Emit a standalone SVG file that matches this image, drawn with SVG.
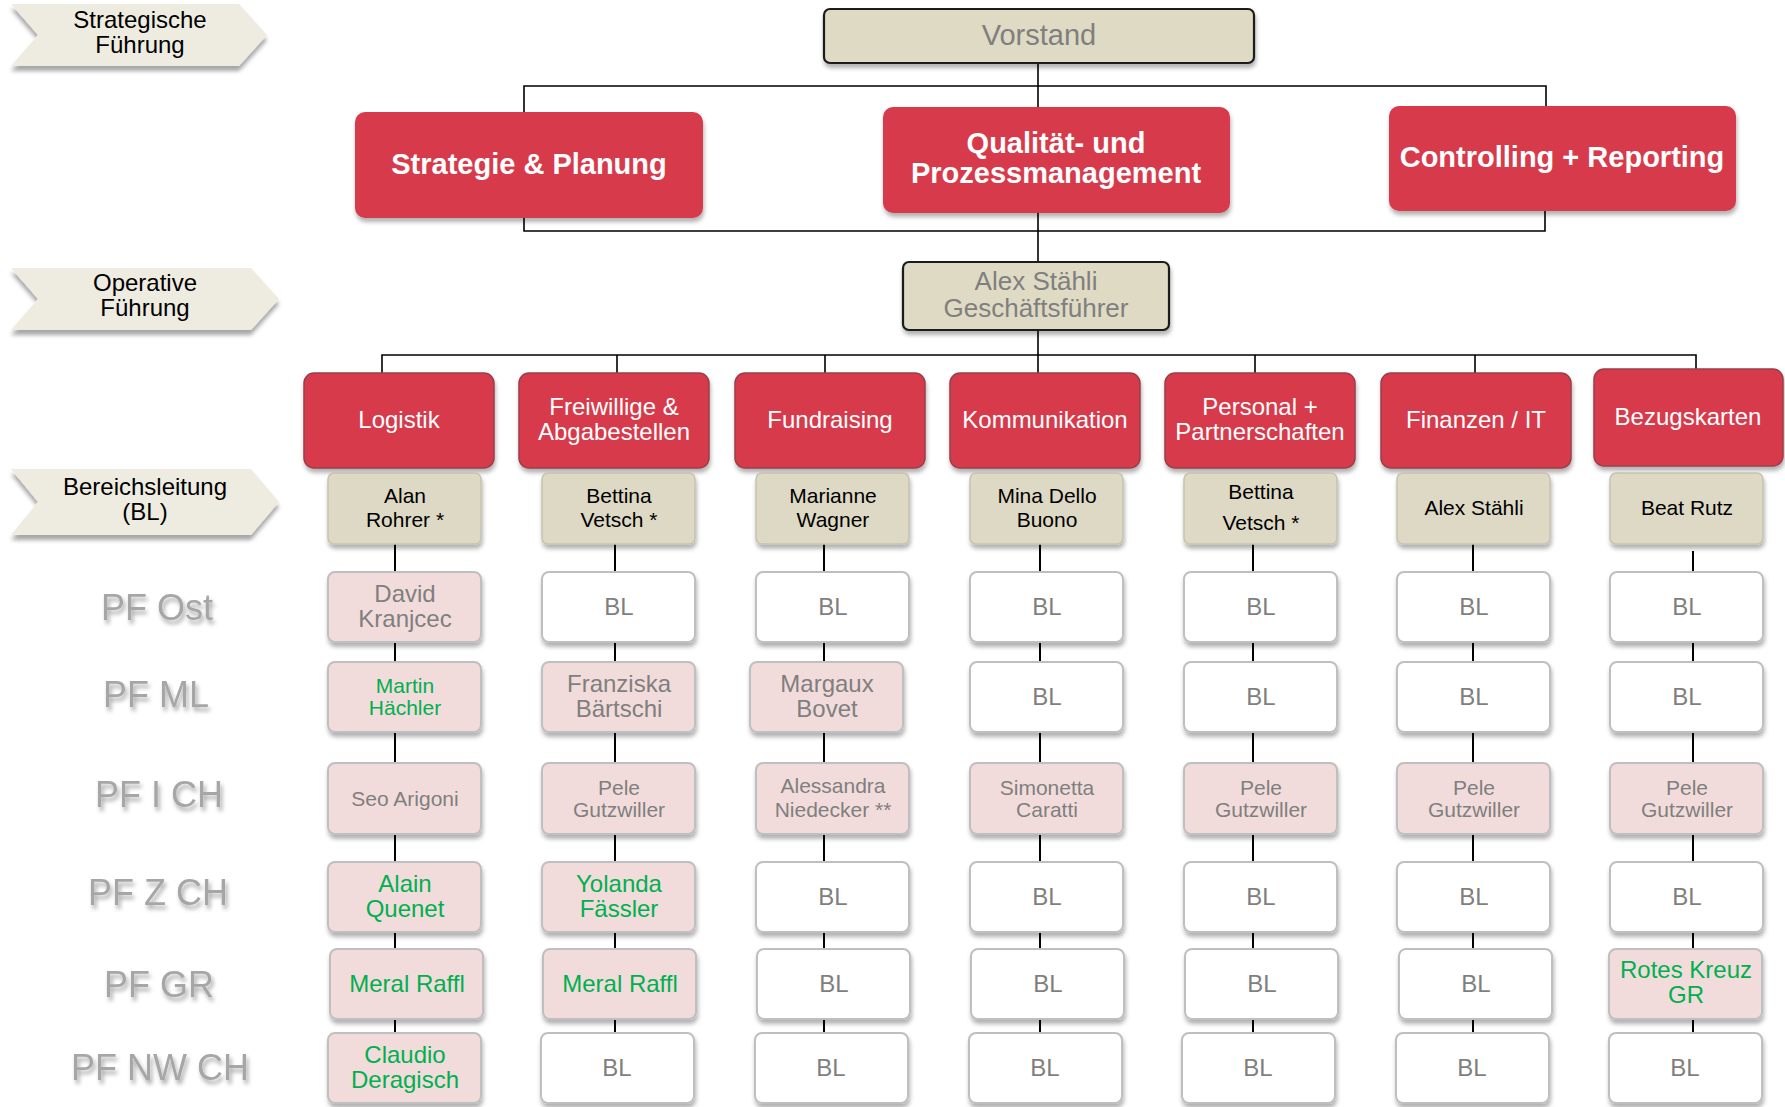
<svg xmlns="http://www.w3.org/2000/svg" width="1785" height="1107" viewBox="0 0 1785 1107">
<defs>
<filter id="sh" x="-10%" y="-10%" width="120%" height="135%"><feDropShadow dx="1" dy="4" stdDeviation="2" flood-color="#000" flood-opacity="0.3"/></filter>
<filter id="shc" x="-5%" y="-10%" width="110%" height="140%"><feDropShadow dx="0" dy="5" stdDeviation="2" flood-color="#000" flood-opacity="0.35"/></filter>
<filter id="sht" x="-10%" y="-20%" width="130%" height="160%"><feDropShadow dx="2" dy="4" stdDeviation="2" flood-color="#000" flood-opacity="0.35"/></filter>
<style>
text{font-family:"Liberation Sans",Arial,Helvetica,sans-serif;text-anchor:middle}
.chev{fill:#EEECE1;filter:url(#shc)}
.ct{font-size:24px;fill:#000}
.red{fill:#D73A4C;filter:url(#sh)}
.dept{fill:#D73A4C;stroke:#9A3E48;stroke-width:1.5;filter:url(#sh)}
.bt{font-size:29px;font-weight:bold;fill:#fff}
.dt{font-size:24px;fill:#fff}
.top{fill:#DFDAC3;stroke:#1A1A1A;stroke-width:2.2;filter:url(#sh)}
.tt{fill:#7F7F7F}
.beige{fill:#DDD9C4;stroke:#C6C2B0;stroke-width:1.5;filter:url(#sh)}
.nt{font-size:21px;fill:#000}
.pink{fill:#F2DCDB;stroke:#BFBFBF;stroke-width:2;filter:url(#sh)}
.white{fill:#FFFFFF;stroke:#BFBFBF;stroke-width:2;filter:url(#sh)}
.g{fill:#7F7F7F}
.gn{fill:#00B050}
.s24{font-size:24px}
.s21{font-size:21px}
.row{font-size:36px;fill:#A6A6A6;filter:url(#sht)}
.conn path{fill:none;stroke:#000;stroke-width:1.6}
.conn .c{stroke-width:2}
</style>
</defs>
<rect width="1785" height="1107" fill="#fff"/>

<g id="lane-labels">
<g id="lane-strategisch"><polygon class="chev" points="11,4 239,4 267,35 239,66 11,66 38,35"/><text class="ct" x="140" y="28">Strategische</text><text class="ct" x="140" y="53">Führung</text></g>
<g id="lane-operativ"><polygon class="chev" points="11,268 251,268 279,299 251,330 11,330 38,299"/><text class="ct" x="145" y="291">Operative</text><text class="ct" x="145" y="316">Führung</text></g>
<g id="lane-bl"><polygon class="chev" points="11,469 251,469 279,502 251,535 11,535 38,502"/><text class="ct" x="145" y="495">Bereichsleitung</text><text class="ct" x="145" y="520">(BL)</text></g>
<g id="row-labels">
<text class="row" x="157" y="620">PF Ost</text>
<text class="row" x="156" y="707">PF ML</text>
<text class="row" x="159" y="807">PF I CH</text>
<text class="row" x="158" y="905">PF Z CH</text>
<text class="row" x="159" y="997">PF GR</text>
<text class="row" x="160" y="1080">PF NW CH</text>
</g>
</g>

<g id="connectors" class="conn">
<path d="M1038,63 V262"/>
<path d="M1038,330 V355"/>
<path d="M524,112 V86 H1546 V106"/>
<path d="M524,218 V231 H1545 V211"/>
<path d="M382,373 V355 H1696 V369"/>
<path d="M617,355 V373 M825,355 V373 M1038,355 V373 M1255,355 V373 M1475,355 V373"/>
<path class="c" d="M395,544 V1033"/>
<path class="c" d="M615,544 V1033"/>
<path class="c" d="M824,544 V1033"/>
<path class="c" d="M1040,544 V1033"/>
<path class="c" d="M1253,544 V1033"/>
<path class="c" d="M1473,544 V1033"/>
<path class="c" d="M1693,551 V1033"/>
</g>

<g id="vorstand"><rect class="top" x="824" y="9" width="430" height="54" rx="6"/><text class="tt" x="1039" y="45" font-size="29">Vorstand</text></g>
<g id="strategie"><rect class="red" x="355" y="112" width="348" height="106" rx="10"/><text class="bt" x="529" y="174">Strategie &amp; Planung</text></g>
<g id="qualitaet"><rect class="red" x="883" y="107" width="347" height="106" rx="10"/><text class="bt" x="1056" y="153">Qualität- und</text><text class="bt" x="1056" y="183">Prozessmanagement</text></g>
<g id="controlling"><rect class="red" x="1389" y="106" width="347" height="105" rx="10"/><text class="bt" x="1562" y="167">Controlling + Reporting</text></g>
<g id="geschaeftsfuehrer"><rect class="top" x="903" y="262" width="266" height="68" rx="6"/><text class="tt" x="1036" y="290" font-size="26">Alex Stähli</text><text class="tt" x="1036" y="317" font-size="26">Geschäftsführer</text></g>

<g id="departments">
<g id="d-logistik"><rect class="dept" x="304" y="373" width="190" height="95" rx="10"/><text class="dt" x="399" y="428">Logistik</text></g>
<g id="d-freiwillige"><rect class="dept" x="519" y="373" width="190" height="95" rx="10"/><text class="dt" x="614" y="415">Freiwillige &amp;</text><text class="dt" x="614" y="440">Abgabestellen</text></g>
<g id="d-fundraising"><rect class="dept" x="735" y="373" width="190" height="95" rx="10"/><text class="dt" x="830" y="428">Fundraising</text></g>
<g id="d-kommunikation"><rect class="dept" x="950" y="373" width="190" height="95" rx="10"/><text class="dt" x="1045" y="428">Kommunikation</text></g>
<g id="d-personal"><rect class="dept" x="1165" y="373" width="190" height="95" rx="10"/><text class="dt" x="1260" y="415">Personal +</text><text class="dt" x="1260" y="440">Partnerschaften</text></g>
<g id="d-finanzen"><rect class="dept" x="1381" y="373" width="190" height="95" rx="10"/><text class="dt" x="1476" y="428">Finanzen / IT</text></g>
<g id="d-bezugskarten"><rect class="dept" x="1594" y="369" width="189" height="97" rx="10"/><text class="dt" x="1688" y="425">Bezugskarten</text></g>
</g>

<g id="bereichsleitung">
<g id="bl-logistik"><rect class="beige" x="328" y="473" width="153" height="71" rx="6"/><text class="nt" x="405" y="503">Alan</text><text class="nt" x="405" y="527">Rohrer *</text></g>
<g id="bl-freiwillige"><rect class="beige" x="542" y="473" width="153" height="71" rx="6"/><text class="nt" x="619" y="503">Bettina</text><text class="nt" x="619" y="527">Vetsch *</text></g>
<g id="bl-fundraising"><rect class="beige" x="756" y="473" width="153" height="71" rx="6"/><text class="nt" x="833" y="503">Marianne</text><text class="nt" x="833" y="527">Wagner</text></g>
<g id="bl-kommunikation"><rect class="beige" x="970" y="473" width="153" height="71" rx="6"/><text class="nt" x="1047" y="503">Mina Dello</text><text class="nt" x="1047" y="527">Buono</text></g>
<g id="bl-personal"><rect class="beige" x="1184" y="473" width="153" height="71" rx="6"/><text class="nt" x="1261" y="499">Bettina</text><text class="nt" x="1261" y="530">Vetsch *</text></g>
<g id="bl-finanzen"><rect class="beige" x="1397" y="473" width="153" height="71" rx="6"/><text class="nt" x="1474" y="515">Alex Stähli</text></g>
<g id="bl-bezugskarten"><rect class="beige" x="1610" y="473" width="153" height="71" rx="6"/><text class="nt" x="1687" y="515">Beat Rutz</text></g>
</g>

<g id="pf-ost">
<g id="ost-1"><rect class="pink" x="328" y="572" width="153" height="70" rx="7"/><text class="g s24" x="405" y="602">David</text><text class="g s24" x="405" y="627">Kranjcec</text></g>
<g id="ost-2"><rect class="white" x="542" y="572" width="153" height="70" rx="7"/><text class="g s24" x="619" y="615">BL</text></g>
<g id="ost-3"><rect class="white" x="756" y="572" width="153" height="70" rx="7"/><text class="g s24" x="833" y="615">BL</text></g>
<g id="ost-4"><rect class="white" x="970" y="572" width="153" height="70" rx="7"/><text class="g s24" x="1047" y="615">BL</text></g>
<g id="ost-5"><rect class="white" x="1184" y="572" width="153" height="70" rx="7"/><text class="g s24" x="1261" y="615">BL</text></g>
<g id="ost-6"><rect class="white" x="1397" y="572" width="153" height="70" rx="7"/><text class="g s24" x="1474" y="615">BL</text></g>
<g id="ost-7"><rect class="white" x="1610" y="572" width="153" height="70" rx="7"/><text class="g s24" x="1687" y="615">BL</text></g>
</g>

<g id="pf-ml">
<g id="ml-1"><rect class="pink" x="328" y="662" width="153" height="70" rx="7"/><text class="gn s21" x="405" y="693">Martin</text><text class="gn s21" x="405" y="715">Hächler</text></g>
<g id="ml-2"><rect class="pink" x="542" y="662" width="153" height="70" rx="7"/><text class="g s24" x="619" y="692">Franziska</text><text class="g s24" x="619" y="717">Bärtschi</text></g>
<g id="ml-3"><rect class="pink" x="750" y="662" width="153" height="70" rx="7"/><text class="g s24" x="827" y="692">Margaux</text><text class="g s24" x="827" y="717">Bovet</text></g>
<g id="ml-4"><rect class="white" x="970" y="662" width="153" height="70" rx="7"/><text class="g s24" x="1047" y="705">BL</text></g>
<g id="ml-5"><rect class="white" x="1184" y="662" width="153" height="70" rx="7"/><text class="g s24" x="1261" y="705">BL</text></g>
<g id="ml-6"><rect class="white" x="1397" y="662" width="153" height="70" rx="7"/><text class="g s24" x="1474" y="705">BL</text></g>
<g id="ml-7"><rect class="white" x="1610" y="662" width="153" height="70" rx="7"/><text class="g s24" x="1687" y="705">BL</text></g>
</g>

<g id="pf-ich">
<g id="ich-1"><rect class="pink" x="328" y="763" width="153" height="71" rx="7"/><text class="g s21" x="405" y="806">Seo Arigoni</text></g>
<g id="ich-2"><rect class="pink" x="542" y="763" width="153" height="71" rx="7"/><text class="g s21" x="619" y="795">Pele</text><text class="g s21" x="619" y="817">Gutzwiller</text></g>
<g id="ich-3"><rect class="pink" x="756" y="763" width="153" height="71" rx="7"/><text class="g s21" x="833" y="793">Alessandra</text><text class="g s21" x="833" y="817">Niedecker **</text></g>
<g id="ich-4"><rect class="pink" x="970" y="763" width="153" height="71" rx="7"/><text class="g s21" x="1047" y="795">Simonetta</text><text class="g s21" x="1047" y="817">Caratti</text></g>
<g id="ich-5"><rect class="pink" x="1184" y="763" width="153" height="71" rx="7"/><text class="g s21" x="1261" y="795">Pele</text><text class="g s21" x="1261" y="817">Gutzwiller</text></g>
<g id="ich-6"><rect class="pink" x="1397" y="763" width="153" height="71" rx="7"/><text class="g s21" x="1474" y="795">Pele</text><text class="g s21" x="1474" y="817">Gutzwiller</text></g>
<g id="ich-7"><rect class="pink" x="1610" y="763" width="153" height="71" rx="7"/><text class="g s21" x="1687" y="795">Pele</text><text class="g s21" x="1687" y="817">Gutzwiller</text></g>
</g>

<g id="pf-zch">
<g id="zch-1"><rect class="pink" x="328" y="862" width="153" height="70" rx="7"/><text class="gn s24" x="405" y="892">Alain</text><text class="gn s24" x="405" y="917">Quenet</text></g>
<g id="zch-2"><rect class="pink" x="542" y="862" width="153" height="70" rx="7"/><text class="gn s24" x="619" y="892">Yolanda</text><text class="gn s24" x="619" y="917">Fässler</text></g>
<g id="zch-3"><rect class="white" x="756" y="862" width="153" height="70" rx="7"/><text class="g s24" x="833" y="905">BL</text></g>
<g id="zch-4"><rect class="white" x="970" y="862" width="153" height="70" rx="7"/><text class="g s24" x="1047" y="905">BL</text></g>
<g id="zch-5"><rect class="white" x="1184" y="862" width="153" height="70" rx="7"/><text class="g s24" x="1261" y="905">BL</text></g>
<g id="zch-6"><rect class="white" x="1397" y="862" width="153" height="70" rx="7"/><text class="g s24" x="1474" y="905">BL</text></g>
<g id="zch-7"><rect class="white" x="1610" y="862" width="153" height="70" rx="7"/><text class="g s24" x="1687" y="905">BL</text></g>
</g>

<g id="pf-gr">
<g id="gr-1"><rect class="pink" x="330" y="949" width="153" height="70" rx="7"/><text class="gn s24" x="407" y="992">Meral Raffl</text></g>
<g id="gr-2"><rect class="pink" x="543" y="949" width="153" height="70" rx="7"/><text class="gn s24" x="620" y="992">Meral Raffl</text></g>
<g id="gr-3"><rect class="white" x="757" y="949" width="153" height="70" rx="7"/><text class="g s24" x="834" y="992">BL</text></g>
<g id="gr-4"><rect class="white" x="971" y="949" width="153" height="70" rx="7"/><text class="g s24" x="1048" y="992">BL</text></g>
<g id="gr-5"><rect class="white" x="1185" y="949" width="153" height="70" rx="7"/><text class="g s24" x="1262" y="992">BL</text></g>
<g id="gr-6"><rect class="white" x="1399" y="949" width="153" height="70" rx="7"/><text class="g s24" x="1476" y="992">BL</text></g>
<g id="gr-7"><rect class="pink" x="1609" y="949" width="153" height="70" rx="7"/><text class="gn s24" x="1686" y="978">Rotes Kreuz</text><text class="gn s24" x="1686" y="1003">GR</text></g>
</g>

<g id="pf-nw">
<g id="nw-1"><rect class="pink" x="328" y="1033" width="153" height="70" rx="7"/><text class="gn s24" x="405" y="1063">Claudio</text><text class="gn s24" x="405" y="1088">Deragisch</text></g>
<g id="nw-2"><rect class="white" x="541" y="1033" width="153" height="70" rx="7"/><text class="g s24" x="617" y="1076">BL</text></g>
<g id="nw-3"><rect class="white" x="755" y="1033" width="153" height="70" rx="7"/><text class="g s24" x="831" y="1076">BL</text></g>
<g id="nw-4"><rect class="white" x="969" y="1033" width="153" height="70" rx="7"/><text class="g s24" x="1045" y="1076">BL</text></g>
<g id="nw-5"><rect class="white" x="1182" y="1033" width="153" height="70" rx="7"/><text class="g s24" x="1258" y="1076">BL</text></g>
<g id="nw-6"><rect class="white" x="1396" y="1033" width="153" height="70" rx="7"/><text class="g s24" x="1472" y="1076">BL</text></g>
<g id="nw-7"><rect class="white" x="1609" y="1033" width="153" height="70" rx="7"/><text class="g s24" x="1685" y="1076">BL</text></g>
</g>
</svg>
